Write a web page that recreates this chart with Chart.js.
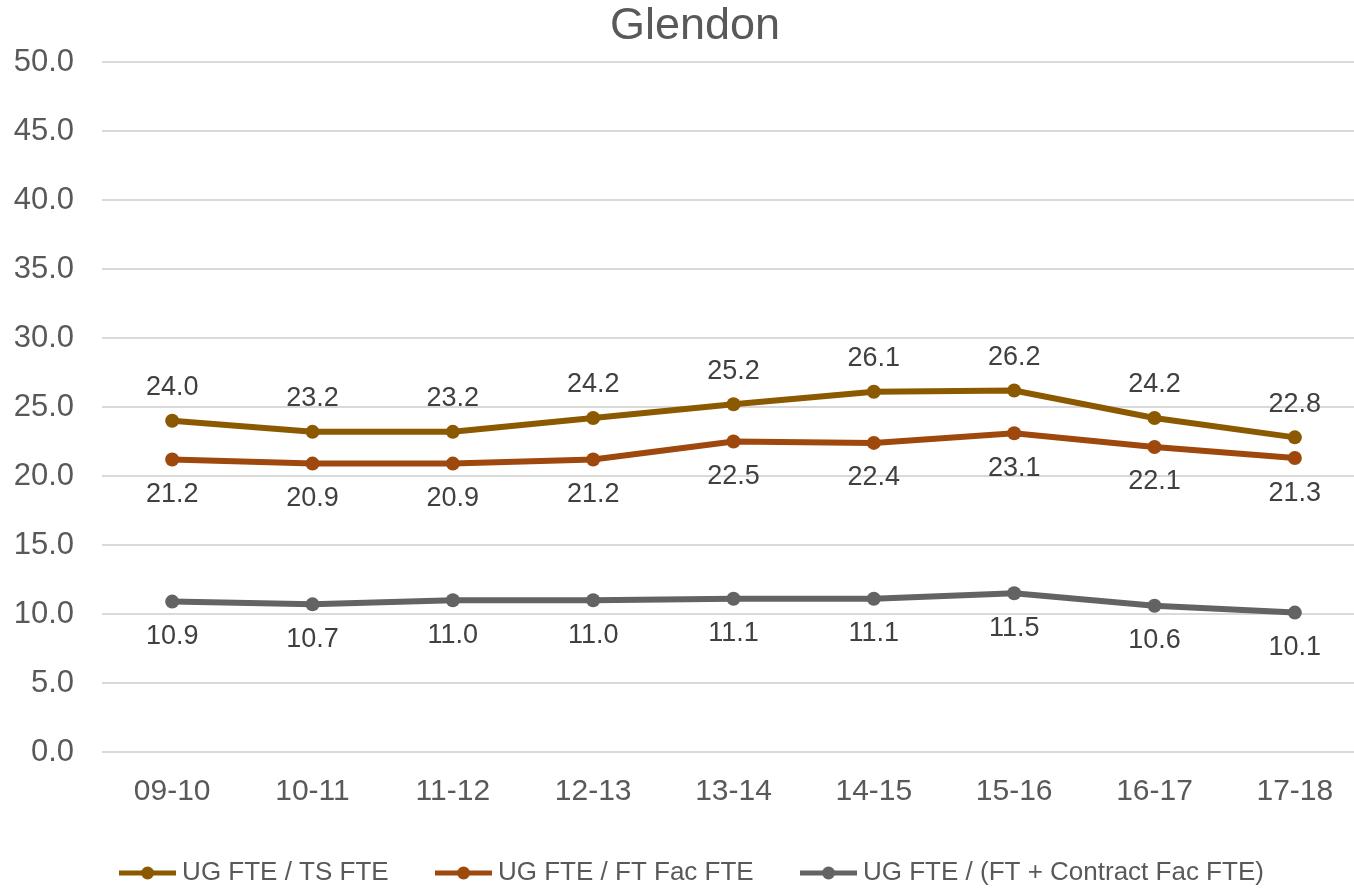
<!DOCTYPE html>
<html>
<head>
<meta charset="utf-8">
<script src="https://cdn.jsdelivr.net/npm/chart.js@4/dist/chart.umd.min.js"></script>
<style>
  html, body { margin: 0; padding: 0; background: #ffffff; overflow: hidden; }
  #wrap { width: 1354px; height: 890px; overflow: hidden; }
  canvas { display: block; }
</style>
</head>
<body>
<div id="wrap">
  <canvas id="myChart" width="1372" height="890"></canvas>
</div>
<script>
// categories (academic years)
var years = ['09-10', '10-11', '11-12', '12-13', '13-14', '14-15', '15-16', '16-17', '17-18'];

// series values
var ugPerTs = [24.0, 23.2, 23.2, 24.2, 25.2, 26.1, 26.2, 24.2, 22.8];
var ugPerFtFac = [21.2, 20.9, 20.9, 21.2, 22.5, 22.4, 23.1, 22.1, 21.3];
var ugPerAllFac = [10.9, 10.7, 11.0, 11.0, 11.1, 11.1, 11.5, 10.6, 10.1];

// series names
var seriesNames = ['UG FTE / TS FTE', 'UG FTE / FT Fac FTE', 'UG FTE / (FT + Contract Fac FTE)'];

// y axis range
var yMin = 0;
var yMax = 50;
var yStep = 5;

var colors = ['#8b5a00', '#9e480e', '#636363'];
var labelOffsets = [-33, 35, 35];
var fontFamily = '"Liberation Sans", Arial, sans-serif';

// little line + dot icon for the legend
function makeIcon(color) {
    var c = document.createElement('canvas');
    c.width = 57;
    c.height = 14;
    var g = c.getContext('2d');
    g.strokeStyle = color;
    g.lineWidth = 5;
    g.beginPath();
    g.moveTo(0, 7);
    g.lineTo(57, 7);
    g.stroke();
    g.fillStyle = color;
    g.beginPath();
    g.arc(28.5, 7, 6.5, 0, Math.PI * 2);
    g.fill();
    return c;
}
var icons = colors.map(makeIcon);

// plugin that writes the value next to each point
var valueLabels = {
    id: 'valueLabels',
    afterDatasetsDraw: function (chart) {
        var ctx = chart.ctx;
        ctx.save();
        ctx.font = '27px ' + fontFamily;
        ctx.fillStyle = '#404040';
        ctx.textAlign = 'center';
        ctx.textBaseline = 'middle';
        chart.data.datasets.forEach(function (ds, i) {
            var meta = chart.getDatasetMeta(i);
            meta.data.forEach(function (pt, j) {
                ctx.fillText(ds.data[j].toFixed(1), pt.x, pt.y + labelOffsets[i]);
            });
        });
        ctx.restore();
    }
};

// nudge title and legend a bit to the right, like the original
var nudgeBoxes = {
    id: 'nudgeBoxes',
    afterLayout: function (chart) {
        [chart.titleBlock, chart.legend].forEach(function (box) {
            if (box) {
                box.left += 11;
                box.right += 11;
            }
        });
    }
};

var seriesValues = [ugPerTs, ugPerFtFac, ugPerAllFac];
var datasets = seriesValues.map(function (vals, i) {
    return {
        label: seriesNames[i],
        data: vals,
        borderColor: colors[i],
        backgroundColor: colors[i],
        borderWidth: 6,
        pointRadius: 7,
        pointHoverRadius: 7,
        pointBorderWidth: 0,
        tension: 0,
        fill: false
    };
});

var ctx = document.getElementById('myChart').getContext('2d');
var chart = new Chart(ctx, {
    type: 'line',
    data: {
        labels: years,
        datasets: datasets
    },
    plugins: [valueLabels, nudgeBoxes],
    options: {
        responsive: false,
        animation: false,
        layout: {
            padding: { left: 0, right: 4, top: 0, bottom: -6 }
        },
        plugins: {
            title: {
                display: true,
                text: 'Glendon',
                color: '#595959',
                font: { family: fontFamily, size: 45, weight: 'normal' },
                padding: { top: 0, bottom: 8 }
            },
            legend: {
                position: 'bottom',
                labels: {
                    color: '#595959',
                    font: { family: fontFamily, size: 26 },
                    usePointStyle: true,
                    pointStyleWidth: 43,
                    padding: 10,
                    generateLabels: function (chart) {
                        var items = Chart.defaults.plugins.legend.labels.generateLabels(chart);
                        items.forEach(function (item, i) {
                            item.pointStyle = icons[i];
                            // spacing between legend entries
                            if (i < items.length - 1) {
                                item.text = item.text + '      ';
                            }
                        });
                        return items;
                    }
                }
            },
            tooltip: { enabled: false }
        },
        scales: {
            x: {
                offset: true,
                grid: { display: false, drawTicks: false },
                border: { display: false },
                ticks: {
                    color: '#595959',
                    padding: 22,
                    font: { family: fontFamily, size: 30 }
                },
                afterFit: function (scale) {
                    scale.height = 98;
                }
            },
            y: {
                min: yMin,
                max: yMax,
                grid: { color: '#d9d9d9', lineWidth: 2, drawTicks: false },
                border: { display: false },
                ticks: {
                    stepSize: yStep,
                    color: '#595959',
                    padding: 28,
                    font: { family: fontFamily, size: 31 },
                    callback: function (v) { return v.toFixed(1); }
                },
                afterFit: function (scale) {
                    scale.width = 102;
                }
            }
        }
    }
});
</script>
</body>
</html>
